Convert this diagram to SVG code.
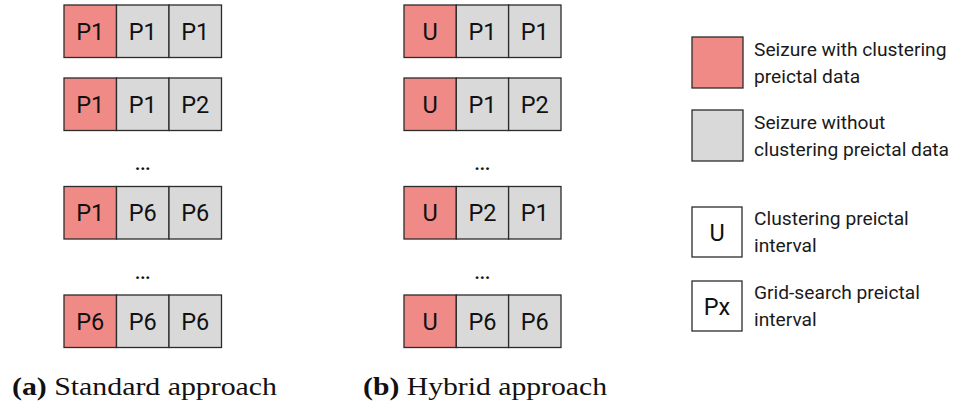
<svg xmlns="http://www.w3.org/2000/svg" width="956" height="412" viewBox="0 0 956 412">
  <style>
    .cell { stroke: #2b2b2b; stroke-width: 1.3; }
    .red { fill: #f08a86; }
    .grey { fill: #d9d9d9; }
    .white { fill: #ffffff; }
    .lbl { font-family: Roboto, "Liberation Sans", sans-serif; font-size: 23.5px; fill: #111; text-anchor: middle; }
    .dots { font-family: Roboto, "Liberation Sans", sans-serif; font-size: 18px; font-weight: bold; fill: #111; text-anchor: middle; }
    .leg { font-family: Roboto, "Liberation Sans", sans-serif; font-size: 19.2px; fill: #1a1a1a; }
    .cap { font-family: "Liberation Serif", serif; font-size: 25px; fill: #111; }
  </style>

  <!-- (a) Standard approach -->
  <g id="std-row1">
    <rect class="cell red" x="64" y="5" width="52.5" height="52.5"/>
    <rect class="cell grey" x="116.5" y="5" width="52.5" height="52.5"/>
    <rect class="cell grey" x="169" y="5" width="52.5" height="52.5"/>
    <text class="lbl" x="90.25" y="39.8">P1</text>
    <text class="lbl" x="142.75" y="39.8">P1</text>
    <text class="lbl" x="195.25" y="39.8">P1</text>
  </g>
  <g id="std-row2">
    <rect class="cell red" x="64" y="78" width="52.5" height="52.5"/>
    <rect class="cell grey" x="116.5" y="78" width="52.5" height="52.5"/>
    <rect class="cell grey" x="169" y="78" width="52.5" height="52.5"/>
    <text class="lbl" x="90.25" y="112.8">P1</text>
    <text class="lbl" x="142.75" y="112.8">P1</text>
    <text class="lbl" x="195.25" y="112.8">P2</text>
  </g>
  <text class="dots" x="142.75" y="170">...</text>
  <g id="std-row3">
    <rect class="cell red" x="64" y="186.5" width="52.5" height="52.5"/>
    <rect class="cell grey" x="116.5" y="186.5" width="52.5" height="52.5"/>
    <rect class="cell grey" x="169" y="186.5" width="52.5" height="52.5"/>
    <text class="lbl" x="90.25" y="221.3">P1</text>
    <text class="lbl" x="142.75" y="221.3">P6</text>
    <text class="lbl" x="195.25" y="221.3">P6</text>
  </g>
  <text class="dots" x="142.75" y="279">...</text>
  <g id="std-row4">
    <rect class="cell red" x="64" y="295" width="52.5" height="52.5"/>
    <rect class="cell grey" x="116.5" y="295" width="52.5" height="52.5"/>
    <rect class="cell grey" x="169" y="295" width="52.5" height="52.5"/>
    <text class="lbl" x="90.25" y="329.8">P6</text>
    <text class="lbl" x="142.75" y="329.8">P6</text>
    <text class="lbl" x="195.25" y="329.8">P6</text>
  </g>

  <!-- (b) Hybrid approach -->
  <g id="hyb-row1">
    <rect class="cell red" x="404" y="5" width="52.3" height="52.5"/>
    <rect class="cell grey" x="456.3" y="5" width="52.3" height="52.5"/>
    <rect class="cell grey" x="508.6" y="5" width="52.4" height="52.5"/>
    <text class="lbl" x="430.15" y="39.8">U</text>
    <text class="lbl" x="482.45" y="39.8">P1</text>
    <text class="lbl" x="534.8" y="39.8">P1</text>
  </g>
  <g id="hyb-row2">
    <rect class="cell red" x="404" y="78" width="52.3" height="52.5"/>
    <rect class="cell grey" x="456.3" y="78" width="52.3" height="52.5"/>
    <rect class="cell grey" x="508.6" y="78" width="52.4" height="52.5"/>
    <text class="lbl" x="430.15" y="112.8">U</text>
    <text class="lbl" x="482.45" y="112.8">P1</text>
    <text class="lbl" x="534.8" y="112.8">P2</text>
  </g>
  <text class="dots" x="482.45" y="170">...</text>
  <g id="hyb-row3">
    <rect class="cell red" x="404" y="186.5" width="52.3" height="52.5"/>
    <rect class="cell grey" x="456.3" y="186.5" width="52.3" height="52.5"/>
    <rect class="cell grey" x="508.6" y="186.5" width="52.4" height="52.5"/>
    <text class="lbl" x="430.15" y="221.3">U</text>
    <text class="lbl" x="482.45" y="221.3">P2</text>
    <text class="lbl" x="534.8" y="221.3">P1</text>
  </g>
  <text class="dots" x="482.45" y="279">...</text>
  <g id="hyb-row4">
    <rect class="cell red" x="404" y="295" width="52.3" height="52.5"/>
    <rect class="cell grey" x="456.3" y="295" width="52.3" height="52.5"/>
    <rect class="cell grey" x="508.6" y="295" width="52.4" height="52.5"/>
    <text class="lbl" x="430.15" y="329.8">U</text>
    <text class="lbl" x="482.45" y="329.8">P6</text>
    <text class="lbl" x="534.8" y="329.8">P6</text>
  </g>

  <!-- Legend -->
  <g id="legend-clustering-data">
    <rect class="cell red" x="692" y="37" width="51" height="51"/>
    <text class="leg" x="754" y="56">Seizure with clustering</text>
    <text class="leg" x="754" y="83">preictal data</text>
  </g>
  <g id="legend-no-clustering-data">
    <rect class="cell grey" x="692" y="110" width="51" height="51"/>
    <text class="leg" x="754" y="129">Seizure without</text>
    <text class="leg" x="754" y="156">clustering preictal data</text>
  </g>
  <g id="legend-clustering-interval">
    <rect class="cell white" x="692" y="207" width="50" height="50"/>
    <text class="lbl" x="717" y="240.8">U</text>
    <text class="leg" x="754" y="225">Clustering preictal</text>
    <text class="leg" x="754" y="252">interval</text>
  </g>
  <g id="legend-grid-interval">
    <rect class="cell white" x="692" y="281" width="50" height="50"/>
    <text class="lbl" x="717" y="314.8">Px</text>
    <text class="leg" x="754" y="299">Grid-search preictal</text>
    <text class="leg" x="754" y="326">interval</text>
  </g>

  <!-- Sub-captions -->
  <text class="cap" x="12" y="395" textLength="265" lengthAdjust="spacingAndGlyphs"><tspan font-weight="bold">(a)</tspan> Standard approach</text>
  <text class="cap" x="363" y="395" textLength="244" lengthAdjust="spacingAndGlyphs"><tspan font-weight="bold">(b)</tspan> Hybrid approach</text>
</svg>
